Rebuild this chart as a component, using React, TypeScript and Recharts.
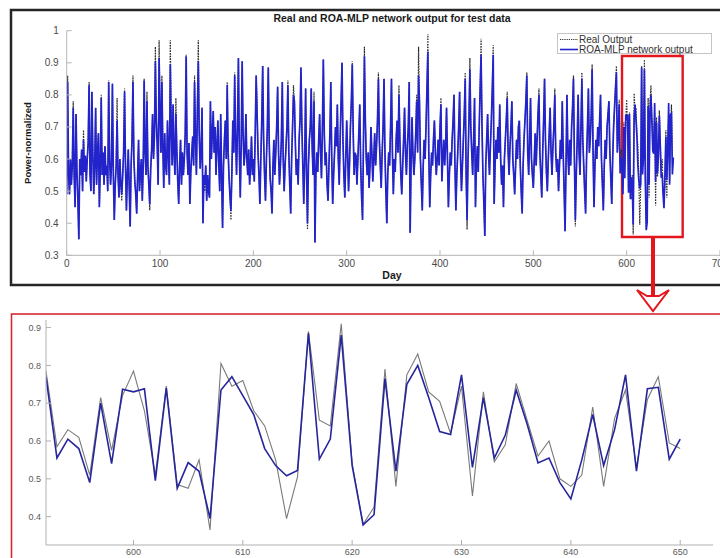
import React from 'react';
import { LineChart, Line, XAxis, YAxis, ReferenceArea, Legend } from 'recharts';

// Real output, days 0..591 (top panel, read from the overview)
const realTop = [
  0.49,0.86,0.55,0.49,0.60,0.52,0.58,0.78,0.55,0.45,
  0.74,0.56,0.47,0.35,0.60,0.55,0.63,0.50,0.69,0.56,
  0.61,0.53,0.60,0.65,0.84,0.55,0.50,0.81,0.62,0.49,
  0.58,0.76,0.52,0.62,0.68,0.45,0.58,0.80,0.55,0.62,
  0.52,0.64,0.55,0.58,0.50,0.845,0.60,0.52,0.58,0.835,
  0.55,0.41,0.52,0.58,0.79,0.55,0.48,0.60,0.52,0.47,
  0.55,0.62,0.82,0.58,0.44,0.55,0.63,0.51,0.39,0.58,
  0.66,0.86,0.60,0.53,0.49,0.43,0.55,0.66,0.50,0.56,
  0.60,0.47,0.58,0.85,0.62,0.55,0.81,0.58,0.52,0.44,
  0.57,0.63,0.74,0.60,0.67,0.95,0.72,0.64,0.52,0.97,
  0.75,0.62,0.86,0.64,0.51,0.68,0.58,0.55,0.72,0.62,
  0.52,0.97,0.70,0.58,0.77,0.62,0.55,0.79,0.63,0.53,
  0.46,0.58,0.66,0.52,0.62,0.55,0.60,0.68,0.925,0.62,
  0.55,0.65,0.46,0.56,0.62,0.67,0.58,0.86,0.66,0.55,
  0.75,0.97,0.68,0.57,0.62,0.76,0.40,0.55,0.50,0.58,
  0.47,0.55,0.50,0.48,0.78,0.60,0.68,0.75,0.62,0.70,
  0.55,0.64,0.72,0.58,0.50,0.74,0.55,0.385,0.58,0.66,
  0.72,0.60,0.84,0.62,0.54,0.48,0.41,0.56,0.72,0.62,
  0.87,0.66,0.55,0.70,0.915,0.62,0.48,0.65,0.905,0.68,
  0.58,0.62,0.74,0.60,0.55,0.63,0.52,0.58,0.67,0.55,
  0.60,0.53,0.68,0.86,0.78,0.62,0.55,0.46,0.60,0.72,
  0.89,0.66,0.55,0.47,0.60,0.70,0.885,0.65,0.54,0.50,
  0.43,0.58,0.66,0.55,0.62,0.70,0.825,0.62,0.52,0.58,
  0.66,0.84,0.60,0.50,0.58,0.64,0.70,0.845,0.62,0.52,
  0.43,0.60,0.70,0.83,0.78,0.65,0.55,0.60,0.52,0.66,
  0.72,0.885,0.70,0.58,0.46,0.60,0.82,0.55,0.38,0.58,
  0.66,0.70,0.82,0.64,0.55,0.81,0.34,0.55,0.62,0.56,
  0.66,0.74,0.62,0.54,0.70,0.91,0.68,0.58,0.62,0.52,
  0.47,0.58,0.68,0.84,0.60,0.46,0.55,0.62,0.70,0.64,
  0.77,0.60,0.52,0.66,0.78,0.90,0.66,0.55,0.48,0.60,
  0.72,0.62,0.50,0.58,0.70,0.78,0.905,0.68,0.55,0.62,
  0.61,0.52,0.60,0.68,0.77,0.58,0.48,0.41,0.66,0.95,
  0.72,0.60,0.55,0.62,0.51,0.58,0.70,0.62,0.53,0.60,
  0.68,0.58,0.64,0.72,0.87,0.66,0.58,0.51,0.62,0.70,
  0.85,0.62,0.50,0.40,0.55,0.62,0.58,0.70,0.85,0.62,
  0.49,0.60,0.56,0.66,0.72,0.62,0.83,0.66,0.55,0.49,
  0.58,0.66,0.76,0.62,0.55,0.64,0.70,0.84,0.37,0.58,
  0.73,0.62,0.55,0.60,0.68,0.80,0.62,0.95,0.78,0.60,
  0.52,0.44,0.58,0.66,0.60,0.70,0.82,0.99,0.62,0.45,
  0.55,0.62,0.58,0.66,0.72,0.62,0.55,0.60,0.66,0.58,
  0.70,0.79,0.53,0.60,0.66,0.58,0.64,0.76,0.60,0.45,
  0.55,0.62,0.58,0.66,0.72,0.80,0.58,0.44,0.55,0.62,
  0.70,0.81,0.60,0.50,0.58,0.66,0.74,0.87,0.55,0.38,
  0.60,0.72,0.915,0.70,0.62,0.55,0.66,0.79,0.45,0.58,
  0.64,0.56,0.70,0.82,0.975,0.70,0.55,0.46,0.36,0.58,
  0.66,0.74,0.62,0.55,0.64,0.72,0.82,0.955,0.46,0.58,
  0.66,0.60,0.70,0.62,0.77,0.60,0.52,0.58,0.45,0.60,
  0.66,0.72,0.81,0.62,0.55,0.64,0.70,0.78,0.60,0.55,
  0.49,0.58,0.66,0.60,0.70,0.72,0.58,0.50,0.43,0.58,
  0.66,0.72,0.78,0.87,0.62,0.55,0.66,0.79,0.60,0.55,
  0.51,0.60,0.68,0.58,0.66,0.74,0.82,0.62,0.55,0.48,
  0.62,0.72,0.85,0.66,0.56,0.50,0.60,0.68,0.76,0.62,
  0.55,0.64,0.70,0.82,0.62,0.56,0.60,0.50,0.58,0.66,
  0.60,0.78,0.62,0.50,0.375,0.58,0.80,0.62,0.55,0.66,
  0.58,0.70,0.76,0.86,0.60,0.39,0.55,0.66,0.80,0.62,
  0.55,0.70,0.87,0.66,0.58,0.50,0.43,0.60,0.70,0.82,
  0.62,0.66,0.74,0.895,0.62,0.45,0.58,0.66,0.60,0.70,
  0.64,0.72,0.80,0.60,0.52,0.44,0.58,0.66,0.60,0.70,
  0.74,0.78,0.62,0.54,0.46,0.60,0.70,0.76,0.82,0.89,
  0.62,0.68,
];

// Network output, days 0..591: where it visibly differs from the real output (day, value)
const predTopDiffs: [number, number][] = [
  [1,0.84],[7,0.76],[18,0.66],[24,0.83],[37,0.79],[45,0.84],[54,0.72],[59,0.49],
  [62,0.81],[71,0.84],[83,0.845],[86,0.78],[89,0.46],[95,0.905],[99,0.915],[102,0.84],
  [111,0.895],[117,0.74],[128,0.92],[137,0.84],[141,0.905],[148,0.52],[172,0.83],[176,0.44],
  [180,0.86],[204,0.74],[237,0.83],[243,0.80],[258,0.40],[265,0.78],[306,0.895],[319,0.92],
  [334,0.85],[356,0.80],[375,0.78],[377,0.86],[387,0.935],[401,0.77],[427,0.85],[429,0.41],
  [432,0.88],[444,0.925],[457,0.925],[472,0.79],[493,0.86],[506,0.80],[523,0.80],[543,0.85],
  [545,0.41],[552,0.85],[563,0.88],[589,0.87],
];

// Zoomed window, days 592..650
const zoomStartDay = 592;
const realZoom = [
  0.785,0.585,0.63,0.61,0.51,0.715,0.575,0.72,0.785,0.68,
  0.51,0.745,0.485,0.475,0.55,0.365,0.805,0.745,0.76,0.68,
  0.64,0.55,0.395,0.505,0.89,0.655,0.64,0.91,0.54,0.38,
  0.425,0.79,0.48,0.775,0.83,0.73,0.705,0.62,0.745,0.455,
  0.73,0.545,0.59,0.752,0.655,0.56,0.60,0.50,0.48,0.51,
  0.69,0.48,0.66,0.735,0.53,0.71,0.77,0.595,0.58,
];
const predZoom = [
  0.77,0.555,0.605,0.58,0.49,0.70,0.54,0.737,0.73,0.738,
  0.495,0.74,0.475,0.543,0.52,0.395,0.735,0.77,0.72,0.67,
  0.58,0.535,0.508,0.522,0.885,0.552,0.605,0.88,0.535,0.378,
  0.405,0.765,0.52,0.75,0.80,0.715,0.625,0.617,0.775,0.53,
  0.715,0.555,0.615,0.735,0.645,0.542,0.555,0.49,0.447,0.55,
  0.67,0.535,0.63,0.775,0.52,0.738,0.742,0.552,0.605,
];

const topXTicks = [0, 100, 200, 300, 400, 500, 600, 700];
const topYTicks = [0.3, 0.4, 0.5, 0.6, 0.7, 0.8, 0.9, 1];
const zoomXTicks = [600, 610, 620, 630, 640, 650];
const zoomYTicks = [0.4, 0.5, 0.6, 0.7, 0.8, 0.9];

const predMap = new Map<number, number>(predTopDiffs);
const fullData: { day: number; real: number; pred: number }[] = [];
realTop.forEach((v, i) => {
  fullData.push({ day: i, real: v, pred: predMap.has(i) ? (predMap.get(i) as number) : v });
});
realZoom.forEach((v, i) => {
  fullData.push({ day: zoomStartDay + i, real: v, pred: predZoom[i] });
});
const zoomData = fullData.filter((d) => d.day >= zoomStartDay);

const FONT = '"Liberation Sans", Arial, Helvetica, sans-serif';
const BLUE_TOP = '#2323cc';
const BLUE_ZOOM = '#26269c';
const RED = '#e3161e';

const fmtY = (v: number) => (v === 1 ? '1' : v.toFixed(1));

const makeBottomTick = (margin: number, color: string, size: number, fill: string) => (props: any) => {
  const { x, y, payload } = props;
  const ay = y - margin;
  return (
    <g>
      <line x1={x} x2={x} y1={ay} y2={ay - 5} stroke={color} strokeWidth={1} />
      <text x={x} y={y} dy="0.75em" textAnchor="middle" fontSize={size} fill={fill} fontFamily={FONT}>
        {payload.value}
      </text>
    </g>
  );
};
const makeLeftTick = (margin: number, color: string, size: number, fill: string) => (props: any) => {
  const { x, y, payload } = props;
  const ax = x + margin;
  return (
    <g>
      <line x1={ax} x2={ax + 5} y1={y} y2={y} stroke={color} strokeWidth={1} />
      <text x={x} y={y} dy="0.35em" textAnchor="end" fontSize={size} fill={fill} fontFamily={FONT}>
        {fmtY(payload.value)}
      </text>
    </g>
  );
};
const makeTopTick = (color: string) => (props: any) => {
  const { x, y } = props;
  return <line x1={x} x2={x} y1={y} y2={y + 5} stroke={color} strokeWidth={1} />;
};
const makeRightTick = (color: string) => (props: any) => {
  const { x, y } = props;
  return <line x1={x} x2={x - 5} y1={y} y2={y} stroke={color} strokeWidth={1} />;
};

const legendRow: React.CSSProperties = {
  display: 'flex',
  alignItems: 'center',
  height: 10,
  lineHeight: '10px',
  whiteSpace: 'nowrap',
};

const renderLegend = () => (
  <div
    style={{
      border: '1px solid #c4c4c4',
      background: '#fff',
      width: 155,
      height: 21,
      paddingTop: 0.5,
      fontFamily: FONT,
      fontSize: 10,
      color: '#333',
      boxSizing: 'border-box',
    }}
  >
    <div style={legendRow}>
      <svg width={21} height={9}>
        <line x1={2} x2={20} y1={4.5} y2={4.5} stroke="#333" strokeWidth={1.1} strokeDasharray="1.2 1" />
      </svg>
      <span>Real Output</span>
    </div>
    <div style={legendRow}>
      <svg width={21} height={9}>
        <line x1={2} x2={20} y1={4.5} y2={4.5} stroke={BLUE_TOP} strokeWidth={1.6} />
      </svg>
      <span>ROA-MLP network output</span>
    </div>
  </div>
);

export default function App() {
  const topAxis = '#b5b5b5';
  const zoomAxis = '#b0b0b0';
  return (
    <div
      style={{
        position: 'absolute',
        left: 0,
        top: 0,
        width: 720,
        height: 558,
        overflow: 'hidden',
        background: '#fff',
        fontFamily: FONT,
      }}
    >
      {/* Top overview chart */}
      <div style={{ position: 'absolute', left: 0, top: 0 }}>
        <LineChart
          width={730}
          height={290}
          data={fullData}
          margin={{ top: 30.7, right: 10, bottom: 4.7, left: 0 }}
        >
          <XAxis
            xAxisId="b"
            dataKey="day"
            type="number"
            domain={[0, 700]}
            ticks={topXTicks}
            interval={0}
            allowDataOverflow
            height={30}
            tickSize={0}
            tickMargin={4}
            axisLine={{ stroke: topAxis }}
            tickLine={false}
            tick={makeBottomTick(4, topAxis, 10, '#4a4a4a')}
          />
          <XAxis
            xAxisId="t"
            orientation="top"
            type="number"
            domain={[0, 700]}
            ticks={topXTicks}
            interval={0}
            allowDataOverflow
            height={0}
            tickSize={0}
            tickMargin={0}
            axisLine={{ stroke: topAxis }}
            tickLine={false}
            tick={makeTopTick(topAxis)}
          />
          <YAxis
            yAxisId="l"
            type="number"
            domain={[0.3, 1]}
            ticks={topYTicks}
            interval={0}
            allowDataOverflow
            width={66.7}
            tickSize={0}
            tickMargin={8}
            axisLine={{ stroke: topAxis }}
            tickLine={false}
            tick={makeLeftTick(8, topAxis, 10, '#4a4a4a')}
          />
          <YAxis
            yAxisId="r"
            orientation="right"
            type="number"
            domain={[0.3, 1]}
            ticks={topYTicks}
            interval={0}
            width={0}
            tickSize={0}
            tickMargin={0}
            axisLine={{ stroke: topAxis }}
            tickLine={false}
            tick={makeRightTick(topAxis)}
          />
          <Line
            xAxisId="b"
            yAxisId="l"
            type="linear"
            dataKey="real"
            name="Real Output"
            stroke="#2a2a2a"
            strokeWidth={1.2}
            strokeDasharray="1.5 1.2"
            dot={false}
            isAnimationActive={false}
          />
          <Line
            xAxisId="b"
            yAxisId="l"
            type="linear"
            dataKey="pred"
            name="ROA-MLP network output"
            stroke={BLUE_TOP}
            strokeWidth={1.7}
            dot={false}
            isAnimationActive={false}
          />
          <ReferenceArea
            xAxisId="b"
            yAxisId="l"
            x1={595}
            x2={660}
            y1={0.357}
            y2={0.921}
            stroke={RED}
            strokeWidth={2.4}
            fill="none"
            fillOpacity={0}
            ifOverflow="visible"
          />
          <Legend
            layout="vertical"
            align="center"
            verticalAlign="middle"
            content={renderLegend}
            wrapperStyle={{ left: 557, top: 33, width: 'auto', height: 'auto' }}
          />
        </LineChart>
      </div>

      {/* Zoomed chart */}
      <div style={{ position: 'absolute', left: 0, top: 300 }}>
        <LineChart
          width={730}
          height={270}
          data={zoomData}
          margin={{ top: 20, right: 17, bottom: 5, left: 0 }}
        >
          <XAxis
            xAxisId="b"
            dataKey="day"
            type="number"
            domain={[592, 653]}
            ticks={zoomXTicks}
            interval={0}
            allowDataOverflow
            height={20}
            tickSize={0}
            tickMargin={3}
            axisLine={{ stroke: zoomAxis }}
            tickLine={false}
            tick={makeBottomTick(3, zoomAxis, 9, '#5a5a5a')}
          />
          <XAxis
            xAxisId="t"
            orientation="top"
            type="number"
            domain={[592, 653]}
            ticks={zoomXTicks}
            interval={0}
            allowDataOverflow
            height={0}
            tickSize={0}
            tickMargin={0}
            axisLine={{ stroke: zoomAxis }}
            tickLine={false}
            tick={makeTopTick(zoomAxis)}
          />
          <YAxis
            yAxisId="l"
            type="number"
            domain={[0.325, 0.92]}
            ticks={zoomYTicks}
            interval={0}
            allowDataOverflow
            width={46}
            tickSize={0}
            tickMargin={5}
            axisLine={{ stroke: zoomAxis }}
            tickLine={false}
            tick={makeLeftTick(5, zoomAxis, 9, '#5a5a5a')}
          />
          <YAxis
            yAxisId="r"
            orientation="right"
            type="number"
            domain={[0.325, 0.92]}
            ticks={zoomYTicks}
            interval={0}
            width={0}
            tickSize={0}
            tickMargin={0}
            axisLine={{ stroke: zoomAxis }}
            tickLine={false}
            tick={makeRightTick(zoomAxis)}
          />
          <Line
            xAxisId="b"
            yAxisId="l"
            type="linear"
            dataKey="real"
            stroke="#7a7a7a"
            strokeWidth={1.1}
            dot={false}
            isAnimationActive={false}
          />
          <Line
            xAxisId="b"
            yAxisId="l"
            type="linear"
            dataKey="pred"
            stroke={BLUE_ZOOM}
            strokeWidth={1.6}
            dot={false}
            isAnimationActive={false}
          />
        </LineChart>
      </div>

      {/* Frames, titles and arrow */}
      <svg
        width={720}
        height={558}
        style={{ position: 'absolute', left: 0, top: 0, pointerEvents: 'none' }}
      >
        <rect x={11} y={10} width={730} height={275} fill="none" stroke="#262626" strokeWidth={2.5} />
        <text x={392} y={22} textAnchor="middle" fontSize={10.5} fontWeight="bold" fill="#1a1a1a" fontFamily={FONT}>
          Real and ROA-MLP network output for test data
        </text>
        <text
          transform="translate(28,143) rotate(-90)"
          textAnchor="middle"
          dy="0.35em"
          fontSize={9.5}
          fontWeight="bold"
          fill="#1a1a1a"
          fontFamily={FONT}
        >
          Power-normalized
        </text>
        <text x={392} y={279} textAnchor="middle" fontSize={10.5} fontWeight="bold" fill="#1a1a1a" fontFamily={FONT}>
          Day
        </text>
        <rect x={11.5} y={314} width={730} height={260} fill="none" stroke="#d62a33" strokeWidth={1.6} />
        <line x1={653} x2={653} y1={237} y2={296} stroke={RED} strokeWidth={4} />
        <polygon
          points="637,290 647,296 659,296 669,290 653,311"
          fill="#fff"
          stroke={RED}
          strokeWidth={2}
          strokeLinejoin="miter"
        />
        <line x1={653} x2={653} y1={286} y2={296} stroke={RED} strokeWidth={4} />
      </svg>
    </div>
  );
}
